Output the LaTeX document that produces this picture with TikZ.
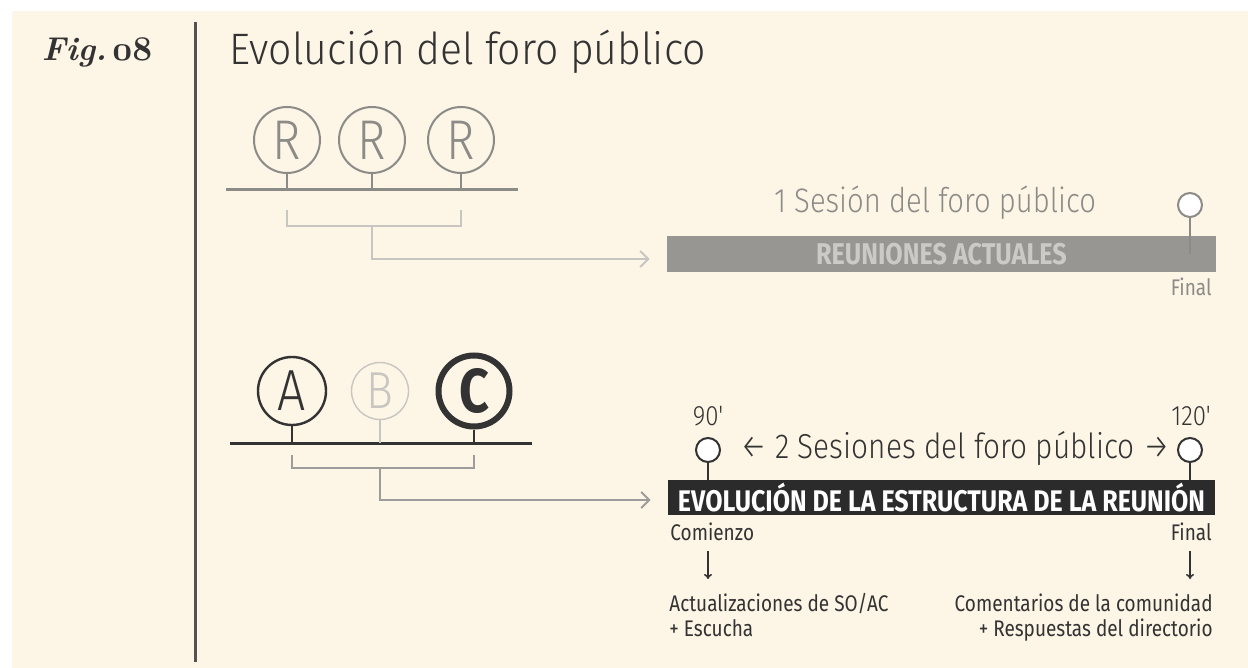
\documentclass[tikz,border=0pt]{standalone}
\usepackage{fontspec}
\newfontfamily\lightfont{Fira Sans Light}[FakeStretch=0.86]
\newfontfamily\titlefont{Fira Sans Light}[FakeStretch=0.93]
\newfontfamily\condfont{Fira Sans}[FakeStretch=0.84]
\usetikzlibrary{arrows.meta,positioning,calc}

\definecolor{paper}{HTML}{FDF5E5}
\definecolor{ink}{HTML}{333333}
\definecolor{mid}{HTML}{8C8B88}
\definecolor{pale}{HTML}{C8C6C1}
\definecolor{barfill}{HTML}{979692}
\definecolor{bartext}{HTML}{CBCAC5}
\definecolor{blackbar}{HTML}{2B2B2B}

\begin{document}
\begin{tikzpicture}
	% Styles
	[
	x=0.5pt, y=-0.5pt,
	rnode/.style={circle,draw=mid,line width=1pt,inner sep=0pt,minimum size=33pt,text=mid,font=\lightfont\fontsize{28}{28}\selectfont},
	anode/.style={circle,draw=ink,line width=1.2pt,inner sep=0pt,minimum size=34pt,text=ink,font=\lightfont\fontsize{29}{29}\selectfont},
	bnode/.style={circle,draw=pale,line width=0.7pt,inner sep=0pt,minimum size=28.5pt,text=pale,font=\lightfont\fontsize{26}{26}\selectfont},
	cnode/.style={circle,draw=ink,line width=3pt,inner sep=0pt,minimum size=35.5pt,text=ink,font=\condfont\bfseries\fontsize{31}{31}\selectfont},
	pin/.style={circle,fill=white,line width=1pt,inner sep=0pt,minimum size=12pt},
	stem/.style={line width=1pt},
	bracket/.style={line width=1pt},
	link/.style={line width=1pt,-{Straight Barb[length=4pt,width=8pt]}},
	downarr/.style={draw=ink,line width=0.8pt,-{To[length=2.5pt,width=4pt]}},
	greybar/.style={fill=barfill,minimum width=274.5pt,minimum height=18pt,inner sep=0pt,text=bartext,font=\condfont\bfseries\fontsize{15}{15}\selectfont},
	blackbarbox/.style={fill=blackbar,minimum width=273.5pt,minimum height=17.5pt,inner sep=0pt,text=white,font=\condfont\bfseries\fontsize{14.9}{14.9}\selectfont},
	sessiontext/.style={inner sep=0pt,font=\lightfont\fontsize{17}{17}\selectfont},
	minutetext/.style={inner sep=0pt,text=ink,font=\lightfont\fontsize{14}{14}\selectfont},
	smalltext/.style={inner sep=0pt,text=ink,font=\condfont\fontsize{11.3}{12.5}\selectfont},
	]

	% Background
	\useasboundingbox (0,0) rectangle (1248,668);
	\fill[white] (0,0) rectangle (1248,668);
	\fill[paper] (12,11) rectangle (1248,668);
	\draw[ink!85,line width=1.5pt] (195,22) -- (195,662);

	% Heading
	\node at (97,53)	(fig)	[text=ink,font=\bfseries\itshape\fontsize{16.5}{16.5}\selectfont] {Fig.\,{\usefont{OML}{cmm}{b}{it}08}};
	\node at (229,65)	(title)	[anchor=base west,inner sep=0pt,text=ink,font=\titlefont\fontsize{22}{22}\selectfont] {Evolución del foro público};

	% Current meetings
	\node at (287,140)	(r1)	[rnode] {R};
	\node at (372,140)	(r2)	[rnode] {R};
	\node at (461,140)	(r3)	[rnode] {R};
	\coordinate (base1l) at (226,190);
	\coordinate (base1r) at (518,190);

	\node at (941.5,254)	(bar1)	[greybar] {REUNIONES ACTUALES};
	\node at (935,203)	(ses1)	[sessiontext,text=mid] {1 Sesión del foro público};
	\node at (1190,205)	(pfin1)	[pin,draw=mid] {};
	\node at (1212,287)	(fin1)	[smalltext,anchor=east,text=mid] {Final};

	% Evolved meetings
	\node at (292,391)	(ca)	[anode] {A};
	\node at (380,391)	(cb)	[bnode] {B};
	\node at (474,391)	(cc)	[cnode] {C};
	\coordinate (base2l) at (230,443);
	\coordinate (base2r) at (532,443);

	\node at (941.5,497.5)	(bar2)	[blackbarbox] {EVOLUCIÓN DE LA ESTRUCTURA DE LA REUNIÓN};
	\node at (708,450)	(p90)	[pin,draw=ink] {};
	\node at (1190,450)	(p120)	[pin,draw=ink] {};
	\node at (708,416)	(m90)	[minutetext] {90'};
	\node at (1191,416)	(m120)	[minutetext] {120'};
	\node at (955,449)	(ses2)	[sessiontext,text=ink,font=\lightfont\fontsize{17.3}{17.3}\selectfont] {← 2 Sesiones del foro público →};

	\node at (670,532)	(start)	[smalltext,anchor=west] {Comienzo};
	\node at (1212,532)	(fin2)	[smalltext,anchor=east] {Final};
	\node at (669,593)	(desc1)	[smalltext,anchor=north west,align=left] {Actualizaciones de SO/AC\\+ Escucha};
	\node at (1213,593)	(desc2)	[smalltext,anchor=north east,align=right] {Comentarios de la comunidad\\+ Respuestas del directorio};

	% Connections
	\draw[mid,line width=1.5pt] (base1l) -- (base1r);
	\foreach \r in {r1,r2,r3}
		\draw[mid,stem] (\r.south) -- (\r.south |- base1l);
	\draw[pale,bracket] ($(r1.south |- base1l)+(0,20)$) -- ++(0,16) -| ($(r3.south |- base1l)+(0,20)$);
	\draw[pale,link,shorten >=8.5pt] ($(r2.south |- base1l)+(0,36)$) |- ([yshift=-2.5pt]bar1.west);
	\draw[mid,stem] (pfin1) -- (pfin1 |- bar1.center);

	\draw[ink,line width=1.5pt] (base2l) -- (base2r);
	\draw[ink,stem] (ca.south) -- (ca.south |- base2l);
	\draw[pale,stem] (cb.south) -- (cb.south |- base2l);
	\draw[ink,stem] (cc.south) -- (cc.south |- base2l);
	\draw[mid!85,bracket] ($(ca.south |- base2l)+(0,12)$) -- ++(0,13) -| ($(cc.south |- base2l)+(0,12)$);
	\draw[mid!85,link,shorten >=8.5pt] ($(cb.south |- base2l)+(0,25)$) |- ([yshift=-1.25pt]bar2.west);
	\draw[ink,stem] (p90) -- (p90 |- bar2.north);
	\draw[ink,stem] (p120) -- (p120 |- bar2.north);

	\draw[downarr,shorten <=5pt,shorten >=7pt] (p90 |- start.south) -- (p90 |- desc1.north);
	\draw[downarr,shorten <=5pt,shorten >=7pt] (p120 |- fin2.south) -- (p120 |- desc2.north);

\end{tikzpicture}
\end{document}
